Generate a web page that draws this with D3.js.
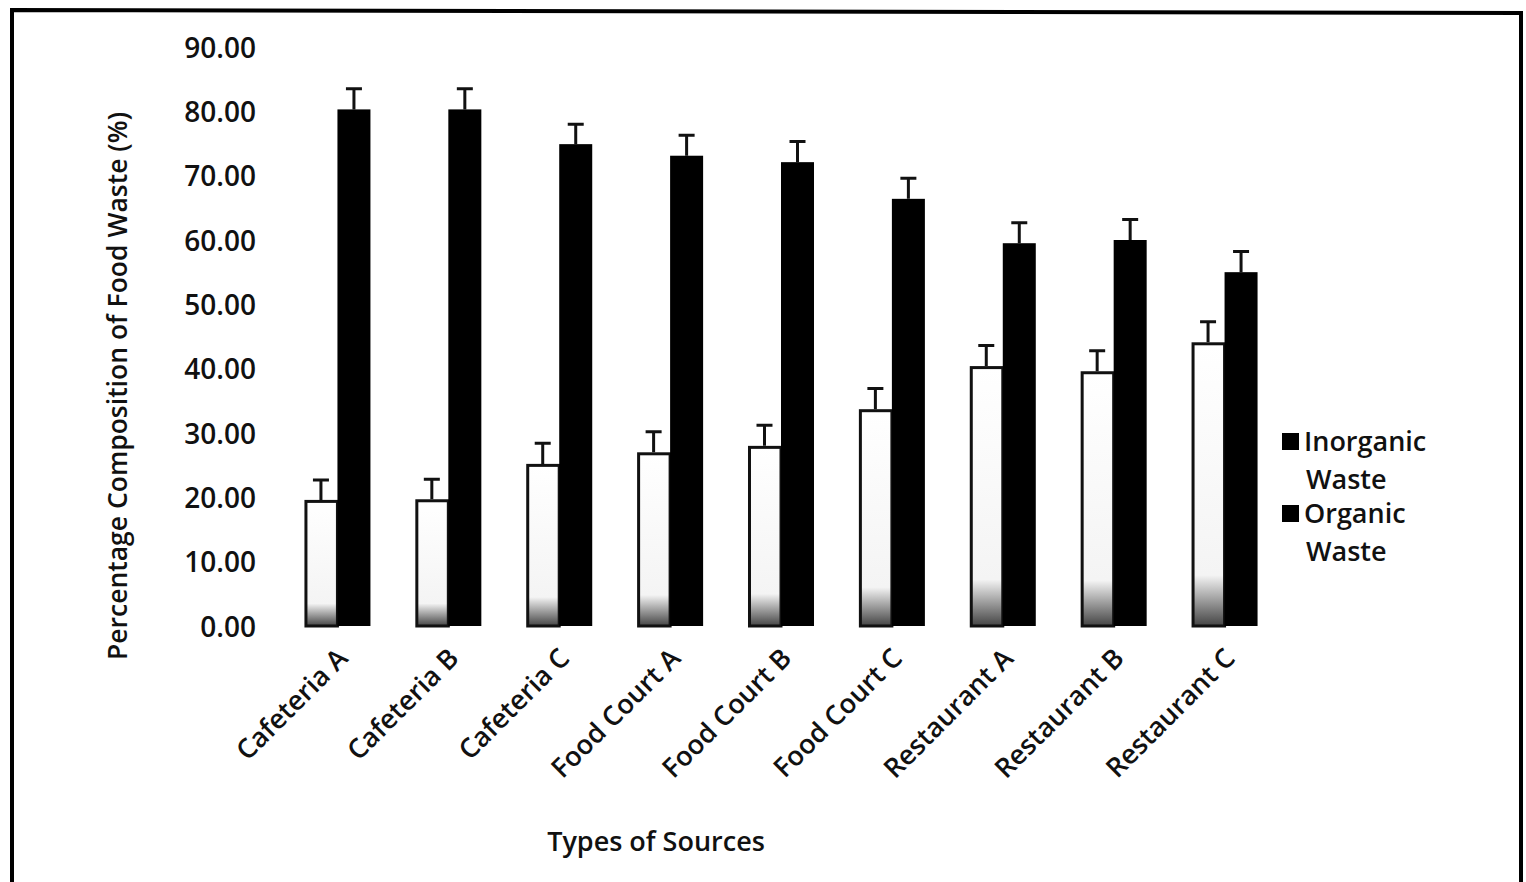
<!DOCTYPE html>
<html>
<head>
<meta charset="utf-8">
<script src="https://cdn.jsdelivr.net/npm/d3@7"></script>
<style>
  body { margin: 0; background: #fff; }
  svg text { font-family: "Open Sans", Lato, sans-serif; fill: #111; }
</style>
</head>
<body>
<div class="chart-container"></div>
<script>
// values
const sources = ["Cafeteria A", "Cafeteria B", "Cafeteria C", "Food Court A", "Food Court B",
  "Food Court C", "Restaurant A", "Restaurant B", "Restaurant C"];
const inorganic = [19.6, 19.7, 25.2, 27.0, 28.0, 33.7, 40.4, 39.6, 44.1];
const organic = [80.3, 80.3, 74.9, 73.1, 72.1, 66.4, 59.5, 60.0, 55.0];
const inorganicErr = [3.1, 3.1, 3.2, 3.2, 3.2, 3.2, 3.2, 3.2, 3.2];
const organicErr = [3.2, 3.2, 3.1, 3.2, 3.2, 3.2, 3.2, 3.2, 3.2];
const seriesNames = ["Inorganic", "Organic"];
const yTicks = [0, 10, 20, 30, 40, 50, 60, 70, 80, 90];

const width = 1526, height = 882;
const margin = { top: 47, right: 246, bottom: 256, left: 282 };

const svg = d3.select(".chart-container")
  .append("svg")
  .attr("width", width)
  .attr("height", height);

// frame around the figure
svg.append("path")
  .attr("d", `M12,${height + 5} L12,10 L1521,13 L1521,${height + 5}`)
  .attr("fill", "none")
  .attr("stroke", "#000")
  .attr("stroke-width", 4);

const defs = svg.append("defs");
const grad = defs.append("linearGradient")
  .attr("id", "whiteBar")
  .attr("x1", 0).attr("y1", 0).attr("x2", 0).attr("y2", 1);
grad.append("stop").attr("offset", "0%").attr("stop-color", "#fff");
grad.append("stop").attr("offset", "82%").attr("stop-color", "#f4f4f4");
grad.append("stop").attr("offset", "100%").attr("stop-color", "#444");

const xScale = d3.scaleBand()
  .domain(sources)
  .range([margin.left, width - margin.right])
  .paddingInner(0)
  .paddingOuter(0);

const xSub = d3.scaleBand()
  .domain(seriesNames)
  .range([0, xScale.bandwidth()])
  .paddingOuter(0.68)
  .paddingInner(0);

const yScale = d3.scaleLinear()
  .domain([0, 90])
  .range([height - margin.bottom, margin.top]);

const rows = sources.map((s, i) => ({
  source: s,
  values: [
    { key: "Inorganic", v: inorganic[i], e: inorganicErr[i] },
    { key: "Organic", v: organic[i], e: organicErr[i] }
  ]
}));

// y axis (labels only)
const yAxis = d3.axisLeft(yScale)
  .tickValues(yTicks)
  .tickFormat(d3.format(".2f"))
  .tickSize(0)
  .tickPadding(26);

const yAxisGroup = svg.append("g")
  .attr("class", "y-axis")
  .attr("transform", `translate(${margin.left}, 0)`)
  .call(yAxis);
yAxisGroup.select(".domain").remove();
yAxisGroup.selectAll("text")
  .style("font-size", "28px")
  .style("font-weight", 600)
  .attr("dy", "0.36em");

svg.append("text")
  .attr("transform", `translate(127, 386) rotate(-90)`)
  .attr("text-anchor", "middle")
  .style("font-size", "26.5px")
  .style("font-weight", 600)
  .text("Percentage Composition of Food Waste (%)");

// x axis labels
const xAxis = d3.axisBottom(xScale).tickSize(0).tickPadding(0);
const xAxisGroup = svg.append("g")
  .attr("class", "x-axis")
  .attr("transform", `translate(0, ${height - margin.bottom})`)
  .call(xAxis);
xAxisGroup.select(".domain").remove();
xAxisGroup.selectAll("text")
  .style("text-anchor", "end")
  .style("font-size", "27px")
  .style("font-weight", 600)
  .attr("dx", "0")
  .attr("dy", "0")
  .attr("transform", "translate(12, 34) rotate(-45)");

svg.append("text")
  .attr("x", 656)
  .attr("y", 851)
  .attr("text-anchor", "middle")
  .style("font-size", "27px")
  .style("font-weight", 600)
  .text("Types of Sources");

// bars
const groups = svg.append("g")
  .selectAll(".group")
  .data(rows)
  .enter().append("g")
  .attr("class", "group")
  .attr("transform", d => `translate(${xScale(d.source)}, 0)`);

// error bars
groups.selectAll(".err")
  .data(d => d.values)
  .enter().append("path")
  .attr("class", "err")
  .attr("fill", "none")
  .attr("stroke", "#111")
  .attr("stroke-width", 3)
  .attr("d", d => {
    const cx = xSub(d.key) + xSub.bandwidth() / 2;
    const y0 = yScale(d.v), y1 = yScale(d.v + d.e);
    return `M${cx},${y0} L${cx},${y1} M${cx - 8},${y1} L${cx + 8},${y1}`;
  });

groups.selectAll(".bar")
  .data(d => d.values)
  .enter().append("rect")
  .attr("class", "bar")
  .attr("x", d => xSub(d.key) + (d.key === "Inorganic" ? 1.5 : 0))
  .attr("y", d => yScale(d.v) + (d.key === "Inorganic" ? 1.5 : 0))
  .attr("width", d => xSub.bandwidth() - (d.key === "Inorganic" ? 1.5 : 0))
  .attr("height", d => yScale(0) - yScale(d.v) - (d.key === "Inorganic" ? 1.5 : 0))
  .attr("fill", d => d.key === "Inorganic" ? "url(#whiteBar)" : "#000")
  .attr("stroke", d => d.key === "Inorganic" ? "#111" : "none")
  .attr("stroke-width", 3);

// legend (both swatches are black in the source)
const legendItems = [
  { lines: ["Inorganic", "Waste"], y: 441 },
  { lines: ["Organic", "Waste"], y: 513 }
];
const legend = svg.append("g").attr("class", "legend");
legendItems.forEach(item => {
  legend.append("rect")
    .attr("x", 1282).attr("y", item.y - 8)
    .attr("width", 17).attr("height", 17)
    .attr("fill", "#000");
  legend.append("text")
    .attr("x", 1304).attr("y", item.y)
    .attr("dy", "0.36em")
    .style("font-size", "27px")
    .style("font-weight", 600)
    .text(item.lines[0]);
  legend.append("text")
    .attr("x", 1306).attr("y", item.y + 38)
    .attr("dy", "0.36em")
    .style("font-size", "27px")
    .style("font-weight", 600)
    .text(item.lines[1]);
});
</script>
</body>
</html>
